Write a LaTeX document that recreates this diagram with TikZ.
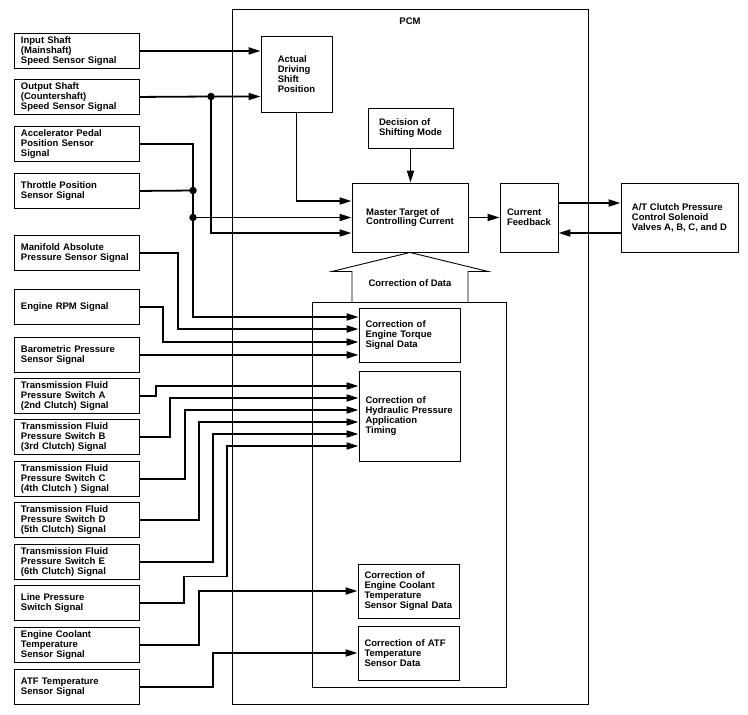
\documentclass[tikz,border=0pt]{standalone}
\usepackage{fontspec}
\setmainfont{Liberation Sans}
\usetikzlibrary{arrows.meta,calc}
\newcommand\diaglbl{\fontsize{9.5}{9.8}\selectfont\bfseries}
\begin{document}
\begin{tikzpicture}[x=1pt,y=-1pt,
  box/.style={draw, line width=0.9pt, align=left, font=\diaglbl, inner sep=1pt},
  sensor/.style={box, anchor=north west, minimum width=125pt, minimum height=35pt, text width=112pt, inner xsep=6.5pt},
  corr/.style={box, text width=88pt, inner xsep=6.5pt},
  frame/.style={draw, line width=0.9pt, inner sep=0pt},
  conn/.style={line width=1.8pt, -{Triangle[length=12pt,width=7pt]}},
  wire/.style={line width=1.8pt},
  dot/.style={circle, fill, inner sep=0pt, minimum size=7.5pt},
  plain/.style={font=\diaglbl, inner sep=1pt}
]
\useasboundingbox (0,0) rectangle (748,715);

% PCM frame and inner frame
\node[frame, minimum width=355.5pt, minimum height=695pt] (pcm) at (410.25,356.5) {};
\node[plain] (pcmlbl) at (410,21) {PCM};
\node[frame, minimum width=193.5pt, minimum height=385pt] (inner) at (409.25,494.5) {};

% sensors
\node[sensor] (inp) at (14,33) {Input Shaft\\(Mainshaft)\\Speed Sensor Signal};
\node[sensor] (out) at (14,79) {Output Shaft\\(Countershaft)\\Speed Sensor Signal};
\node[sensor] (acc) at (14,126) {Accelerator Pedal\\Position Sensor\\Signal};
\node[sensor] (thr) at (14,173) {Throttle Position\\Sensor Signal};
\node[sensor] (man) at (14,235) {Manifold Absolute\\Pressure Sensor Signal};
\node[sensor] (rpm) at (14,289) {Engine RPM Signal};
\node[sensor] (baro) at (14,337) {Barometric Pressure\\Sensor Signal};
\node[sensor] (tfa) at (14,378) {Transmission Fluid\\Pressure Switch A\\(2nd Clutch) Signal};
\node[sensor] (tfb) at (14,419) {Transmission Fluid\\Pressure Switch B\\(3rd Clutch) Signal};
\node[sensor] (tfc) at (14,461) {Transmission Fluid\\Pressure Switch C\\(4th Clutch ) Signal};
\node[sensor] (tfd) at (14,502) {Transmission Fluid\\Pressure Switch D\\(5th Clutch) Signal};
\node[sensor] (tfe) at (14,544) {Transmission Fluid\\Pressure Switch E\\(6th Clutch) Signal};
\node[sensor] (lps) at (14,585) {Line Pressure\\Switch Signal};
\node[sensor] (ect) at (14,627) {Engine Coolant\\Temperature\\Sensor Signal};
\node[sensor] (atf) at (14,669) {ATF Temperature\\Sensor Signal};

% PCM blocks
\node[box, minimum width=71pt, minimum height=76pt] (actual) at (296.5,74) {Actual\\Driving\\Shift\\Position};
\node[box, minimum width=85pt, minimum height=40pt] (dec) at (410.5,128) {Decision of\\Shifting Mode};
\node[box, minimum width=116pt, minimum height=69pt] (master) at (410,217.5) {Master Target of\\Controlling Current};
\node[box, minimum width=58pt, minimum height=69pt] (cf) at (529,217.5) {Current\\Feedback};
\node[box, minimum width=117pt, minimum height=69pt] (atc) at (679.5,217.5) {A/T Clutch Pressure\\Control Solenoid\\Valves A, B, C, and D};

\node[corr, minimum height=54pt] (et) at (409.5,335) {Correction of\\Engine Torque\\Signal Data};
\node[corr, minimum height=90pt] (hyd) at (409.5,416) {Correction of\\Hydraulic Pressure\\Application\\Timing};
\node[corr, minimum height=54pt] (ecc) at (408.5,591) {Correction of\\Engine Coolant\\Temperature\\Sensor Signal Data};
\node[corr, minimum height=54pt] (atfc) at (408.5,653) {Correction of ATF\\Temperature\\Sensor Data};

% Correction of Data arrow
\draw[line width=0.9pt] ($(master.south)+(-58,50)$) -- ++(0,-31) -- ++(-20,0) -- (master.south) -- ++(78,19) -- ++(-20,0) -- ++(0,31);
\node[plain] (cdata) at (410,283) {Correction of Data};

% top connectors
\draw[conn] (inp.east) -- (inp.east -| actual.west);
\node[dot] (j1) at (211,96.5) {};
\draw[conn] (out.east) -- (j1.center) -- (j1.center -| actual.west);
\draw[conn] (j1.center) |- ([yshift=-15.5pt]master.west);
\draw[conn] (actual.south) |- ([yshift=16.5pt]master.west);
\draw[conn] (dec.south) -- (dec.south |- master.north);

\node[dot] (j2) at (193,190.5) {};
\node[dot] (j3) at (193,217.5) {};
\draw[conn] (acc.east) -| (j2.center) -- (j3.center) |- ([yshift=18pt]et.west);
\draw[wire] (thr.east) -- (j2.center);
\draw[conn] (j3.center) -- (master.west);

% engine torque inputs
\draw[conn] (man.east) -- ++(38,0) |- ([yshift=6pt]et.west);
\draw[conn] (rpm.east) -- ++(23,0) |- ([yshift=-7pt]et.west);
\draw[conn] (baro.east) -- (baro.east -| et.west);

% hydraulic inputs
\draw[conn] (tfa.east) -- ++(16,0) |- ([yshift=30pt]hyd.west);
\draw[conn] (tfb.east) -- ++(30,0) |- ([yshift=18pt]hyd.west);
\draw[conn] (tfc.east) -- ++(45,0) |- ([yshift=6pt]hyd.west);
\draw[conn] (tfd.east) -- ++(59,0) |- ([yshift=-6pt]hyd.west);
\draw[conn] (tfe.east) -- ++(73,0) |- ([yshift=-18pt]hyd.west);
\draw[conn] (lps.east) -- ++(44,0) -- ++(0,-26.5) -- ++(43,0) |- ([yshift=-30pt]hyd.west);

% temperature inputs
\draw[conn] (ect.east) -- ++(59,0) |- (ecc.west);
\draw[conn] (atf.east) -- ++(73,0) |- (atfc.west);

% output side
\draw[conn] (master.east) -- (cf.west);
\draw[conn] ([yshift=14.5pt]cf.east) -- ([yshift=14.5pt]atc.west);
\draw[conn] ([yshift=-15.5pt]atc.west) -- ([yshift=-15.5pt]cf.east);
\end{tikzpicture}
\end{document}
